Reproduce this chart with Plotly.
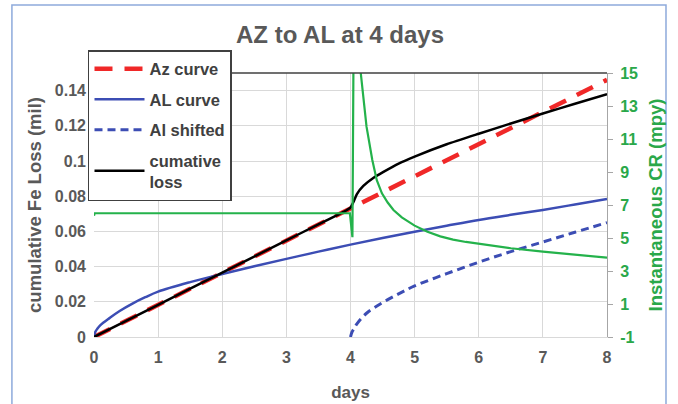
import plotly.graph_objects as go

# ---- data ----
az_days = [0, 8]
az_loss = [0, 0.1461]

al_days = [0, 0.02, 0.05, 0.1, 0.25, 0.4, 0.6, 0.8, 1, 1.5, 2, 2.5, 3, 3.5, 4, 4.5, 5, 5.5, 6, 6.5, 7, 7.5, 8]
al_loss = [0, 0.0028, 0.0046, 0.0068, 0.011, 0.0148, 0.019, 0.0226, 0.0258, 0.0312, 0.0358, 0.0402, 0.0444,
           0.0485, 0.0525, 0.0563, 0.0598, 0.0632, 0.0665, 0.0694, 0.0722, 0.0753, 0.0784]

sh_days = [4, 4.02, 4.05, 4.1, 4.25, 4.5, 4.75, 5, 5.5, 6, 6.5, 7, 7.5, 8]
sh_loss = [0, 0.0025, 0.0045, 0.0075, 0.0135, 0.0195, 0.0245, 0.029, 0.036, 0.0425, 0.0485, 0.054, 0.0595, 0.065]

cum_days = [0, 1, 2, 3, 3.5, 3.8, 3.9, 4, 4.02, 4.05, 4.1, 4.2, 4.36, 4.5, 4.75, 5, 5.5, 6, 6.5, 7, 7.5, 8]
cum_loss = [0, 0.0183, 0.0366, 0.0549, 0.064, 0.0694, 0.0712, 0.0735, 0.0748, 0.077, 0.0812, 0.0858, 0.0905,
            0.0935, 0.0985, 0.1025, 0.1095, 0.1155, 0.1213, 0.127, 0.1325, 0.138]

cr_days = [0, 0.01, 3.99, 4.02, 4.03, 4.045, 4.1, 4.16, 4.19, 4.25, 4.34, 4.41, 4.49, 4.58, 4.67, 4.8, 5.0,
           5.2, 5.4, 5.6, 5.8, 6.0, 6.5, 7.0, 7.5, 8.0]
cr_mpy = [6.35, 6.5, 6.5, 5.05, 5.05, 15.0, 40.0, 15.0, 13.77, 11.75, 9.73, 8.5, 7.71, 7.15, 6.7, 6.25, 5.75,
          5.38, 5.1, 4.9, 4.76, 4.65, 4.38, 4.17, 3.98, 3.81]

x_ticks = [0, 1, 2, 3, 4, 5, 6, 7, 8]
cr_ticks = [-1, 1, 3, 5, 7, 9, 11, 13, 15]

GRAY = "#595959"
GREEN = "#2aa84a"
FONT = "Liberation Sans, Arial, sans-serif"

fig = go.Figure()
fig.add_trace(go.Scatter(x=az_days, y=az_loss, mode="lines", name="Az curve", legendgroup="a",
                         line=dict(color="#f02828", width=4.5, dash="18px,12px")))
fig.add_trace(go.Scatter(x=al_days, y=al_loss, mode="lines", name="AL curve", legendgroup="b",
                         line=dict(color="#3c4db4", width=2.5, shape="spline")))
fig.add_trace(go.Scatter(x=sh_days, y=sh_loss, mode="lines", name="Al shifted", legendgroup="c",
                         line=dict(color="#3c4db4", width=3, dash="8px,5px", shape="spline")))
fig.add_trace(go.Scatter(x=cum_days, y=cum_loss, mode="lines", name="cumative<br>loss", legendgroup="d",
                         line=dict(color="#000000", width=2.5, shape="spline", smoothing=0.6)))
fig.add_trace(go.Scatter(x=cr_days, y=cr_mpy, mode="lines", name="Instantaneous CR", yaxis="y2",
                         showlegend=False, line=dict(color="#24b24b", width=2.2)))

fig.update_layout(
    width=678, height=404,
    margin=dict(l=94, r=71, t=73, b=67, autoexpand=False),
    paper_bgcolor="white", plot_bgcolor="white",
    font=dict(family=FONT, color=GRAY),
    title=dict(text="<b>AZ to AL at 4 days</b>", x=0.5015, xanchor="center", y=0.915, yanchor="middle",
               font=dict(size=24, color=GRAY, family=FONT)),
    xaxis=dict(range=[0, 8], tickvals=x_ticks, showgrid=True, gridcolor="#d9d9d9", gridwidth=1,
               showline=True, linecolor="#d9d9d9", zeroline=False, ticks="", automargin=False,
               ticklabelstandoff=6,
               tickfont=dict(size=16, color=GRAY, family=FONT, weight="bold"),
               title=dict(text="<b>days</b>", standoff=20, font=dict(size=17, color=GRAY))),
    yaxis=dict(range=[0, 0.15], dtick=0.02, tick0=0, showgrid=True, gridcolor="#d9d9d9", gridwidth=1,
               zeroline=False, showline=False, ticks="", ticklabelstandoff=7, automargin=False,
               tickfont=dict(size=16, color=GRAY, family=FONT, weight="bold"),
               title=dict(text="<b>cumulative Fe Loss (mil)</b>", standoff=8, font=dict(size=18.5, color=GRAY))),
    yaxis2=dict(range=[-1, 15], overlaying="y", side="right", tickvals=cr_ticks,
                ticktext=[str(v) for v in cr_ticks], showgrid=False, zeroline=False, automargin=False,
                showline=True, linecolor="#a6a6a6", ticks="outside", ticklen=5, tickcolor="#a6a6a6",
                ticklabelstandoff=4,
                tickfont=dict(size=16, color=GREEN, family=FONT, weight="bold"),
                title=dict(text="<b>Instantaneous CR (mpy)</b>", standoff=11, font=dict(size=18.5, color=GREEN))),
    legend=dict(x=-0.0117, y=1.087, xanchor="left", yanchor="top", bgcolor="white",
                bordercolor="#404040", borderwidth=1.5, traceorder="grouped", tracegroupgap=6,
                itemwidth=50, font=dict(size=16.5, color="#404040", family=FONT, weight="bold")),
    showlegend=True,
)

# dark top border line of the plot area
fig.add_shape(type="line", xref="paper", yref="paper", x0=0, x1=1, y0=1, y1=1,
              line=dict(color="#404040", width=1.5), layer="above")
# outer light-blue frame
fig.add_shape(type="rect", xref="paper", yref="paper", x0=-0.160, x1=1.115, y0=-0.4, y1=1.258,
              line=dict(color="#8eaadb", width=1.5), layer="below")

fig.write_html("out.html", config={"displayModeBar": False},
               post_script="document.body.style.margin='0px';")
